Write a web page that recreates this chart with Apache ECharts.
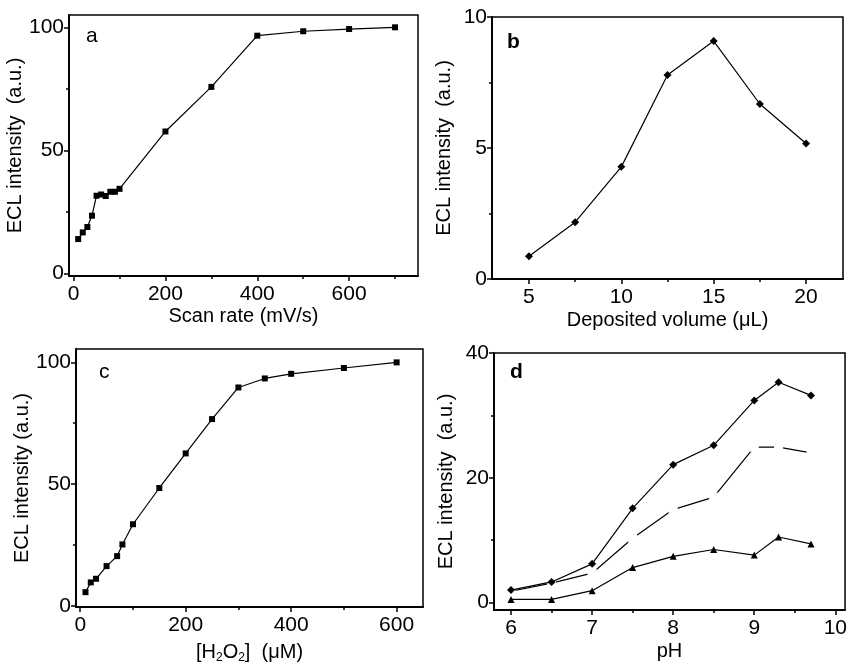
<!DOCTYPE html>
<html>
<head>
<meta charset="utf-8">
<script src="https://cdn.jsdelivr.net/npm/echarts@6/dist/echarts.min.js"></script>
<style>
  html, body { margin: 0; padding: 0; background: #fff; }
  #chart { width: 850px; height: 665px; }
</style>
</head>
<body>
<div id="chart"></div>
<script>
// panel a
var scanRate = [10, 20, 30, 40, 50, 60, 70, 80, 90, 100, 200, 300, 400, 500, 600, 700];
var eclA = [14, 16.7, 18.9, 23.5, 31.6, 32.1, 31.5, 33.2, 33.2, 34.4, 57.7, 75.8, 96.6, 98.4, 99.3, 100];
// panel b
var volume = [5, 7.5, 10, 12.5, 15, 17.5, 20];
var eclB = [0.87, 2.17, 4.28, 7.79, 9.08, 6.68, 5.17];
// panel c
var h2o2 = [10, 20, 30, 50, 70, 80, 100, 150, 200, 250, 300, 350, 400, 500, 600];
var eclC = [5.6, 9.6, 11.1, 16.3, 20.4, 25.2, 33.5, 48.4, 62.6, 76.7, 89.7, 93.4, 95.3, 97.7, 100];
// panel d
var ph = [6, 6.5, 7, 7.5, 8, 8.5, 9, 9.3, 9.7];
var eclD1 = [2.0, 3.3, 6.2, 15.1, 22.1, 25.2, 32.4, 35.3, 33.2];
var eclD2 = [1.8, 3.1, 4.7, 10.3, 14.9, 16.9, 24.9, 24.9, 24.0];
var eclD3 = [0.5, 0.5, 1.9, 5.6, 7.4, 8.5, 7.6, 10.5, 9.4];

// tick values
var ticksA = { xMaj: [0, 200, 400, 600], xMin: [100, 300, 500, 700], yMaj: [0, 50, 100], yMin: [25, 75] };
var ticksB = { xMaj: [5, 10, 15, 20], xMin: [7.5, 12.5, 17.5], yMaj: [0, 5, 10], yMin: [2.5, 7.5] };
var ticksC = { xMaj: [0, 200, 400, 600], xMin: [100, 300, 500], yMaj: [0, 50, 100], yMin: [25, 75] };
var ticksD = { xMaj: [6, 7, 8, 9, 10], xMin: [6.5, 7.5, 8.5, 9.5], yMaj: [0, 20, 40], yMin: [10, 30] };

function zip(xs, ys) {
  return xs.map(function (x, i) { return [x, ys[i]]; });
}

var font = 'Liberation Sans, Arial, sans-serif';
var grids = [], xAxes = [], yAxes = [];

function panel(idx, rect, xr, yr, t, xName, yName, xGap, yGap) {
  grids.push({
    left: rect[0], top: rect[1], width: rect[2], height: rect[3],
    show: true, borderColor: '#000', borderWidth: 1.5, backgroundColor: 'transparent'
  });
  var common = {
    type: 'value', gridIndex: idx, splitLine: { show: false },
    axisLine: { onZero: false, lineStyle: { color: '#000', width: 1.5 } }
  };
  xAxes.push(Object.assign({}, common, {
    position: 'bottom',
    min: xr[0], max: xr[1], name: xName, nameLocation: 'middle', nameGap: xGap,
    nameTextStyle: { fontFamily: font, fontSize: 20, color: '#000', rich: {
      sub: { fontFamily: font, fontSize: 12, color: '#000', padding: [12, 0, 0, 0] },
      n: { fontFamily: font, fontSize: 20, color: '#000' }
    } },
    axisTick: { customValues: t.xMaj, inside: false, length: 5, lineStyle: { color: '#000', width: 1.5 } },
    axisLabel: { customValues: t.xMaj, margin: 8, fontFamily: font, fontSize: 21, color: '#000' }
  }));
  xAxes.push(Object.assign({}, common, {
    position: 'bottom',
    min: xr[0], max: xr[1],
    axisTick: { customValues: t.xMin, length: 3, lineStyle: { color: '#000', width: 1.5 } },
    axisLabel: { show: false }
  }));
  yAxes.push(Object.assign({}, common, {
    position: 'left',
    min: yr[0], max: yr[1], name: yName, nameLocation: 'middle', nameGap: yGap,
    nameTextStyle: { fontFamily: font, fontSize: 20, color: '#000' },
    axisTick: { customValues: t.yMaj, length: 5, lineStyle: { color: '#000', width: 1.5 } },
    axisLabel: { customValues: t.yMaj, margin: 5, fontFamily: font, fontSize: 21, color: '#000' }
  }));
  yAxes.push(Object.assign({}, common, {
    position: 'left',
    min: yr[0], max: yr[1],
    axisTick: { customValues: t.yMin, length: 3, lineStyle: { color: '#000', width: 1.5 } },
    axisLabel: { show: false }
  }));
}

panel(0, [69, 15, 349, 261], [-10, 750], [-1, 105], ticksA, 'Scan rate (mV/s)', 'ECL intensity  (a.u.)', 30, 38);
panel(1, [492, 17, 351, 262], [3, 22], [0, 10], ticksB, 'Deposited volume (\u03bcL)', 'ECL intensity  (a.u.)', 31, 38);
panel(2, [76, 349, 347, 258], [-8, 650], [-0.5, 105.5], ticksC, '{n|[H}{sub|2}{n|O}{sub|2}{n|]  (\u03bcM)}', 'ECL intensity (a.u.)', 33, 40);
panel(3, [494, 353, 353, 257], [5.79, 10.12], [-1.2, 40], ticksD, 'pH', 'ECL intensity  (a.u.)', 31, 38);

function line(idx, xs, ys, symbol, size, extra) {
  return Object.assign({
    type: 'line', xAxisIndex: idx * 2, yAxisIndex: idx * 2,
    data: zip(xs, ys), symbol: symbol, symbolSize: size, showSymbol: true,
    lineStyle: { color: '#000', width: 1.2 },
    itemStyle: { color: '#000' }, z: 3, animation: false
  }, extra || {});
}

var option = {
  animation: false,
  backgroundColor: '#fff',
  grid: grids,
  xAxis: xAxes,
  yAxis: yAxes,
  graphic: [
    { type: 'text', left: 86, top: 26, style: { text: 'a', font: '21px ' + font, fill: '#000' } },
    { type: 'text', left: 507, top: 32, style: { text: 'b', font: 'bold 21px ' + font, fill: '#000' } },
    { type: 'text', left: 99, top: 362, style: { text: 'c', font: '21px ' + font, fill: '#000' } },
    { type: 'text', left: 510, top: 362, style: { text: 'd', font: 'bold 21px ' + font, fill: '#000' } }
  ],
  series: [
    line(0, scanRate, eclA, 'rect', 6),
    line(1, volume, eclB, 'diamond', 8),
    line(2, h2o2, eclC, 'rect', 6),
    line(3, ph, eclD1, 'diamond', 8),
    line(3, ph, eclD2, 'rect', 9, { itemStyle: { color: '#fff', borderWidth: 0 }, z: 2 }),
    line(3, ph, eclD3, 'triangle', 7)
  ]
};

var chart = echarts.init(document.getElementById('chart'), null, { renderer: 'canvas' });
chart.setOption(option);
</script>
</body>
</html>
